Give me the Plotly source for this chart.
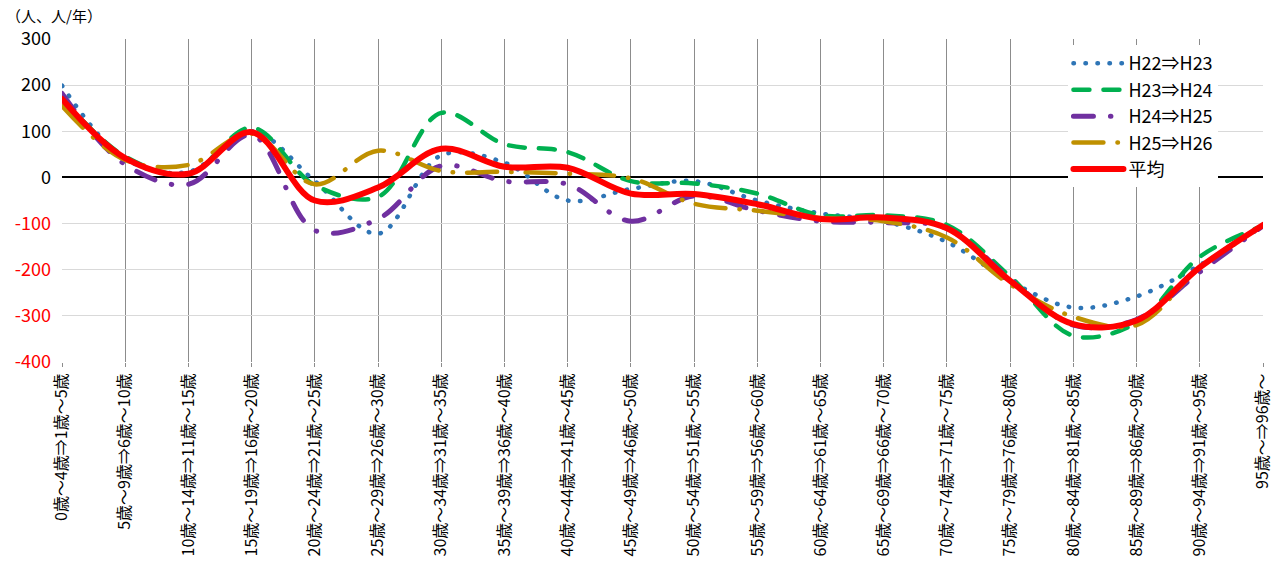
import plotly.graph_objects as go

categories = [
    "0歳～4歳⇒1歳～5歳", "5歳～9歳⇒6歳～10歳", "10歳～14歳⇒11歳～15歳",
    "15歳～19歳⇒16歳～20歳", "20歳～24歳⇒21歳～25歳", "25歳～29歳⇒26歳～30歳",
    "30歳～34歳⇒31歳～35歳", "35歳～39歳⇒36歳～40歳", "40歳～44歳⇒41歳～45歳",
    "45歳～49歳⇒46歳～50歳", "50歳～54歳⇒51歳～55歳", "55歳～59歳⇒56歳～60歳",
    "60歳～64歳⇒61歳～65歳", "65歳～69歳⇒66歳～70歳", "70歳～74歳⇒71歳～75歳",
    "75歳～79歳⇒76歳～80歳", "80歳～84歳⇒81歳～85歳", "85歳～89歳⇒86歳～90歳",
    "90歳～94歳⇒91歳～95歳", "95歳～⇒96歳～",
]

h22_h23 = [199, 40, 12, 100, -8, -122, 48, 32, -50, -25, -8, -50, -78, -95, -140, -225, -282, -258, -190, -105]
h23_h24 = [172, 45, 8, 108, -17, -42, 140, 72, 55, -8, -13, -35, -82, -82, -103, -215, -343, -315, -172, -105]
h24_h25 = [182, 28, -15, 92, -115, -90, 25, -8, -15, -95, -40, -72, -95, -98, -110, -220, -320, -308, -205, -105]
h25_h26 = [155, 38, 27, 95, -15, 58, 14, 12, 8, -2, -57, -72, -88, -95, -130, -232, -302, -320, -195, -103]
average = [170, 42, 8, 98, -50, -22, 62, 23, 21, -35, -36, -58, -90, -87, -110, -224, -318, -310, -195, -103]

y_ticks = [300, 200, 100, 0, -100, -200, -300, -400]

FONT = "Noto Sans CJK JP"
xs = list(range(len(categories)))

series = [
    ("H22⇒H23", h22_h23, "#2E75B6", 4.5, "0.5px,11.5px"),
    ("H23⇒H24", h23_h24, "#00B050", 4.5, "16px,14px"),
    ("H24⇒H25", h24_h25, "#7030A0", 5, "20px,17px,0.5px,17px"),
    ("H25⇒H26", h25_h26, "#BF9000", 4.5, "30px,14px,0.5px,14px"),
    ("平均", average, "#FF0000", 6, "solid"),
]

fig = go.Figure()
for name, vals, color, w, dash in series:
    fig.add_trace(go.Scatter(
        x=xs, y=vals, name=name, mode="lines",
        line=dict(color=color, width=w, dash=dash, shape="spline", smoothing=1.0),
    ))

def tick_label(v):
    if v < 0:
        return f'<span style="color:#FF0000">{v}</span>'
    return str(v)

fig.update_layout(
    width=1279, height=572,
    margin=dict(l=62, r=16, t=39, b=210, autoexpand=False),
    paper_bgcolor="white", plot_bgcolor="white",
    font=dict(family=FONT, size=16, color="black"),
    showlegend=True,
    legend=dict(
        x=0.838, y=0.981, xanchor="left", yanchor="top",
        bgcolor="white", borderwidth=0,
        font=dict(family=FONT, size=18, color="black"),
        itemwidth=50, tracegroupgap=0,
    ),
    xaxis=dict(
        range=[0, 19], tickvals=xs, ticktext=categories, tickangle=-90,
        showgrid=True, gridcolor="#8C8C8C", gridwidth=1.3,
        showline=False, zeroline=False, automargin=False,
        ticks="outside", ticklen=4, tickcolor="#8C8C8C",
        tickfont=dict(family=FONT, size=16, color="black"),
    ),
    yaxis=dict(
        range=[-400, 300], tickvals=y_ticks, ticktext=[tick_label(v) for v in y_ticks],
        showgrid=True, gridcolor="#D9D9D9", gridwidth=1.3,
        zeroline=True, zerolinecolor="black", zerolinewidth=2,
        showline=False, ticks="", ticklabelstandoff=10, automargin=False,
        tickfont=dict(family=FONT, size=18, color="black"),
    ),
    annotations=[dict(
        text="（人、人/年）", xref="paper", yref="paper",
        x=-0.048, y=1.072, xanchor="left", yanchor="middle",
        showarrow=False, font=dict(family=FONT, size=15, color="black"),
    )],
)

post = """
document.body.style.margin='0';
document.body.style.overflow='hidden';
function roundCaps(){
  document.querySelectorAll('path.js-line').forEach(function(p){
    p.style.strokeLinecap='round'; p.style.strokeLinejoin='round';
  });
}
roundCaps(); setTimeout(roundCaps, 50); setTimeout(roundCaps, 300);
"""
fig.write_html("out.html", post_script=post, config={"displayModeBar": False})
